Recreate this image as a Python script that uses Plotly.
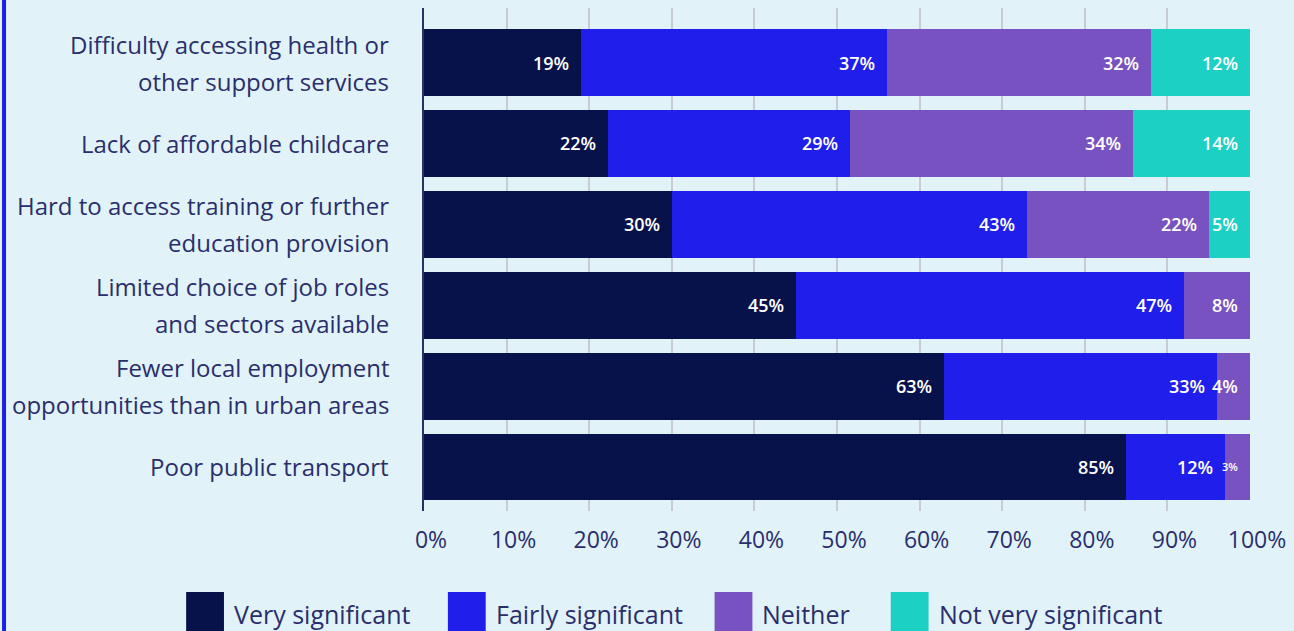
import plotly.graph_objects as go

# Survey data: share of respondents rating each barrier
categories = [
    "Difficulty accessing health or<br>other support services",
    "Lack of affordable childcare",
    "Hard to access training or further<br>education provision",
    "Limited choice of job roles<br>and sectors available",
    "Fewer local employment<br>opportunities than in urban areas",
    "Poor public transport",
]
very_significant = [19, 22, 30, 45, 63, 85]
fairly_significant = [37, 29, 43, 47, 33, 12]
neither = [32, 34, 22, 8, 4, 3]
not_very_significant = [12, 14, 5, 0, 0, 0]

series_names = ["Very significant", "Fairly significant", "Neither", "Not very significant"]
series_values = [very_significant, fairly_significant, neither, not_very_significant]
series_colors = ["#08124a", "#1f1eea", "#7852c0", "#1cd0c4"]

x_ticks = [0, 10, 20, 30, 40, 50, 60, 70, 80, 90, 100]

W, H = 1294, 631
L, R, T, B = 424, 40, 8, 120
PW, PH = W - L - R, H - T - B
BG = "#e1f3f8"
TEXT = "#2b2e6c"
FONT = "Open Sans"


def px_x(px):
    return (px - L) / PW


def px_y(py):
    return (H - B - py) / PH


fig = go.Figure()
totals = [sum(s[i] for s in series_values) for i in range(len(categories))]

for name, vals, col in zip(series_names, series_values, series_colors):
    fig.add_trace(go.Bar(
        y=categories, x=vals, name=name, orientation="h",
        marker=dict(color=col, line=dict(width=0)),
        hoverinfo="x+y+name", showlegend=False,
    ))

annotations = []
# value labels at the right end of each segment
cum = [0] * len(categories)
for vals in series_values:
    for i, v in enumerate(vals):
        cum[i] += v
        if v <= 0:
            continue
        end = cum[i] / totals[i] * 100
        annotations.append(dict(
            x=end, y=categories[i], xref="x", yref="y", text=f"{v}%",
            showarrow=False, xanchor="right", yanchor="middle", xshift=-10,
            font=dict(family=FONT, size=18 if v >= 4 else 11, color="white", weight=600),
        ))

# category labels, one annotation per line for wider line spacing
for cat in categories:
    lines = cat.split("<br>")
    n = len(lines)
    for k, line in enumerate(lines):
        annotations.append(dict(
            x=0, y=cat, xref="paper", yref="y", text=line, showarrow=False,
            xanchor="right", yanchor="middle", xshift=-33,
            yshift=(n - 1) / 2 * 37 - k * 37,
            font=dict(family=FONT, size=24, color=TEXT),
        ))

# legend row
legend_x = [185, 448, 716, 893]
shapes = []
for name, col, lx in zip(series_names, series_colors, legend_x):
    shapes.append(dict(
        type="rect", xref="paper", yref="paper",
        x0=px_x(lx), x1=px_x(lx + 38), y0=px_y(592), y1=px_y(632),
        fillcolor=col, line=dict(width=0), layer="above",
    ))
    annotations.append(dict(
        x=px_x(lx + 46), y=px_y(614), xref="paper", yref="paper", text=name,
        showarrow=False, xanchor="left", yanchor="middle",
        font=dict(family=FONT, size=25, color=TEXT),
    ))

# blue edge at the left of the panel
shapes.append(dict(
    type="rect", xref="paper", yref="paper",
    x0=px_x(0), x1=px_x(4), y0=px_y(H), y1=px_y(0),
    fillcolor="#1e1ee6", line=dict(width=0), layer="above",
))

fig.update_layout(
    width=W, height=H,
    margin=dict(l=L, r=R, t=T, b=B, pad=0),
    barmode="stack", barnorm="percent", bargap=0.172,
    paper_bgcolor=BG, plot_bgcolor=BG,
    showlegend=False,
    font=dict(family=FONT, color=TEXT),
    annotations=annotations, shapes=shapes,
    xaxis=dict(
        range=[0, 100], tickvals=x_ticks, ticktext=[f"{t}%" for t in x_ticks],
        showgrid=True, gridcolor="#c6cbd6", gridwidth=1.5,
        zeroline=False, showline=False, ticks="",
        tickfont=dict(family=FONT, size=23, color=TEXT),
        ticklabelstandoff=13, ticklabelshift=7, fixedrange=True,
    ),
    yaxis=dict(
        categoryorder="array", categoryarray=categories,
        range=[5.544, -0.674], showticklabels=False,
        showgrid=False, zeroline=False,
        showline=True, linecolor="#2b3060", linewidth=2, ticks="",
        fixedrange=True,
    ),
)

fig.write_html("out.html")
